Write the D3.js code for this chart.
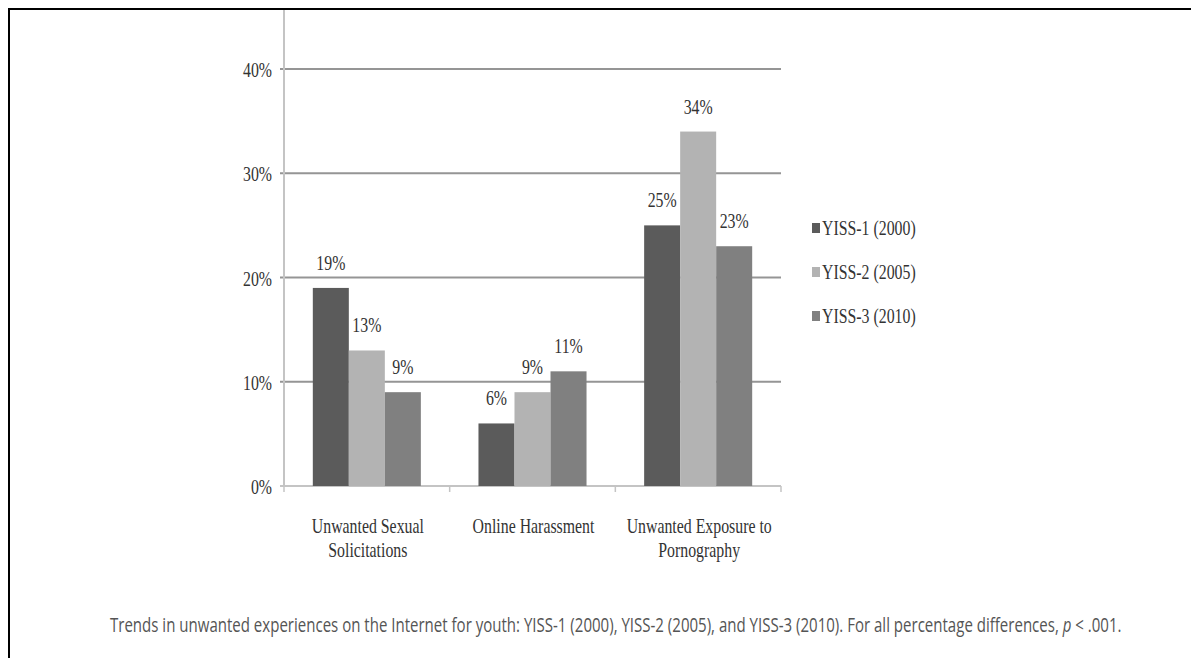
<!DOCTYPE html>
<html>
<head>
<meta charset="utf-8">
<script src="https://cdn.jsdelivr.net/npm/d3@7"></script>
<style>
  html, body { margin: 0; padding: 0; background: #fff; }
  svg { display: block; }
</style>
</head>
<body>
<svg id="chart" width="1191" height="658"></svg>
<script>
// ---- data ----
const categories = [
  ["Unwanted Sexual", "Solicitations"],
  ["Online Harassment"],
  ["Unwanted Exposure to", "Pornography"]
];
const seriesNames = ["YISS-1 (2000)", "YISS-2 (2005)", "YISS-3 (2010)"];
const yiss1 = [19, 6, 25];
const yiss2 = [13, 9, 34];
const yiss3 = [9, 11, 23];
const yTicks = [0, 10, 20, 30, 40];
const caption = "Trends in unwanted experiences on the Internet for youth: YISS-1 (2000), YISS-2 (2005), and YISS-3 (2010). For all percentage differences, ";

// ---- setup ----
const svg = d3.select("#chart");
const colors = ["#5b5b5b", "#b3b3b3", "#808080"];
const seriesVals = [yiss1, yiss2, yiss3];
const FS = 22;
const SX = 0.72;
const serif = "'Liberation Serif', 'Times New Roman', serif";
const textColor = "#333";

// frame
svg.append("line").attr("x1", 8).attr("x2", 1191).attr("y1", 9).attr("y2", 9)
  .attr("stroke", "#000").attr("stroke-width", 2);
svg.append("line").attr("x1", 9).attr("x2", 9).attr("y1", 8).attr("y2", 658)
  .attr("stroke", "#000").attr("stroke-width", 2);

const x0 = d3.scaleBand().domain(d3.range(categories.length)).range([284, 781]).padding(0);
const x1 = d3.scaleBand().domain(d3.range(seriesNames.length)).range([0, x0.bandwidth()])
  .paddingInner(0).paddingOuter(0.8);
const y = d3.scaleLinear().domain([0, 40]).range([486, 69]);

function sText(g, x, yy, txt, anchor) {
  return g.append("text")
    .attr("transform", `translate(${x},${yy}) scale(${SX},1)`)
    .attr("text-anchor", anchor)
    .attr("font-family", serif)
    .attr("font-size", FS)
    .attr("fill", textColor)
    .text(txt);
}

// gridlines
const grid = svg.append("g");
yTicks.filter(t => t > 0).forEach(t => {
  grid.append("line").attr("x1", 280).attr("x2", 781)
    .attr("y1", y(t)).attr("y2", y(t))
    .attr("stroke", "#959595").attr("stroke-width", 2);
});

// y axis line
svg.append("line").attr("x1", 284).attr("x2", 284).attr("y1", 10).attr("y2", y(0))
  .attr("stroke", "#c4c4c4").attr("stroke-width", 2);
// x axis line
svg.append("line").attr("x1", 280).attr("x2", 781).attr("y1", y(0)).attr("y2", y(0))
  .attr("stroke", "#c4c4c4").attr("stroke-width", 2);
// x ticks
[284, ...d3.range(categories.length).map(i => x0(i) + x0.bandwidth())].forEach(xx => {
  svg.append("line").attr("x1", xx).attr("x2", xx).attr("y1", y(0)).attr("y2", y(0) + 6)
    .attr("stroke", "#c4c4c4").attr("stroke-width", 1.5);
});

// y tick labels
const ylab = svg.append("g");
yTicks.forEach(t => {
  sText(ylab, 272, y(t) + 8, t + "%", "end");
});

// bars
const barsG = svg.append("g");
categories.forEach((c, ci) => {
  seriesVals.forEach((vals, si) => {
    const v = vals[ci];
    const bx = x0(ci) + x1(si);
    barsG.append("rect")
      .attr("x", bx).attr("y", y(v))
      .attr("width", x1.bandwidth()).attr("height", y(0) - y(v))
      .attr("fill", colors[si]);
    sText(barsG, bx + x1.bandwidth() / 2, y(v) - 18, v + "%", "middle");
  });
});

// category labels
const catG = svg.append("g");
categories.forEach((lines, ci) => {
  const cx = x0(ci) + x0.bandwidth() / 2 + 1;
  lines.forEach((ln, li) => {
    sText(catG, cx, 533 + li * 24, ln, "middle");
  });
});

// legend
const legG = svg.append("g");
seriesNames.forEach((n, i) => {
  const ly = 228 + i * 44;
  legG.append("rect").attr("x", 812).attr("y", ly - 5).attr("width", 8).attr("height", 10)
    .attr("fill", colors[i]);
  sText(legG, 822, ly + 7, n, "start");
});

// caption
const cap = svg.append("text")
  .attr("font-family", "'Open Sans', 'Noto Sans', sans-serif")
  .attr("font-size", 20)
  .attr("fill", "#555");
cap.append("tspan").text(caption);
cap.append("tspan").attr("font-style", "italic").text("p");
cap.append("tspan").text(" < .001.");
const natural = cap.node().getComputedTextLength();
const capScale = 1012 / natural;
cap.attr("transform", `translate(110,632) scale(${capScale},1)`);
</script>
</body>
</html>
